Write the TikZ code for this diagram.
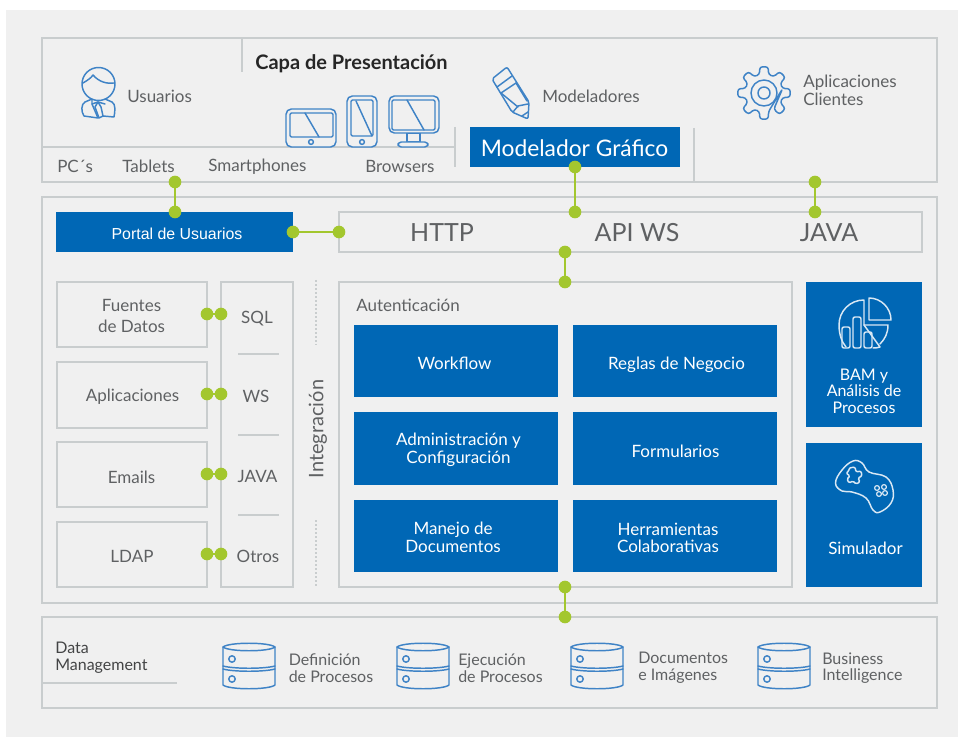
\documentclass[tikz,border=0pt]{standalone}
\usepackage{fontspec}
\setmainfont{Lato}
\usetikzlibrary{calc}
\definecolor{pagebg}{HTML}{F0F0F0}
\definecolor{framec}{HTML}{C9CDCE}
\definecolor{bluec}{HTML}{0067B5}
\definecolor{iconc}{HTML}{3F83C6}
\definecolor{greenc}{HTML}{A3C72E}
\definecolor{textc}{HTML}{5F6163}
\newcommand{\px}[1]{\fontsize{\fpeval{#1*0.75}}{\fpeval{#1*0.78}}\selectfont}
\tikzset{
  x=0.75pt,y=-0.75pt,
  framebox/.style={draw=framec,line width=2.2pt,fill=pagebg,inner sep=0pt,outer sep=0pt},
  bluebox/.style={fill=bluec,inner sep=0pt,outer sep=0pt},
  frameline/.style={draw=framec,line width=2pt},
  sized/.style 2 args={minimum width=#1*0.75pt,minimum height=#2*0.75pt},
  dot/.style={circle,fill=greenc,inner sep=0pt,outer sep=0pt,minimum size=9.5pt},
  conn/.style={draw=greenc,line width=2pt},
  label/.style={text=textc,inner sep=0pt,align=left,anchor=west},
  gtext/.style={text=textc,inner sep=0pt,align=center},
  wtext/.style={text=white,inner sep=0pt,align=center},
  iconl/.style={draw=iconc,line width=1.1pt,line join=round,line cap=round},
  iconw/.style={draw=white!85!bluec,line width=1.1pt,line join=round,line cap=round},
}
\begin{document}
\begin{tikzpicture}
\useasboundingbox (0,0) rectangle (963,737);
\fill[white] (0,0) rectangle (963,737);
\fill[pagebg] (6,10) rectangle (958,737);

% frames
\node[framebox,sized={895}{144}] (top) at (489.5,110) {};
\node[framebox,sized={895}{406}] (mid) at (489.5,400) {};
\node[framebox,sized={895}{91}] (bot) at (489.5,662.5) {};

% top layer
\draw[frameline] (242,38) -- (242,72);
\draw[frameline] (42,147) -- (455,147);
\draw[frameline] (455,127) -- (455,167);
\draw[frameline] (694,128) -- (694,182);
\node[text=black!85,inner sep=0pt,anchor=west,font=\bfseries\px{20}] (capa) at (255,63.5) {Capa de Presentación};
\node[label,font=\px{17}] (usu) at (127,96.5) {Usuarios};
\node[label,font=\px{17}] (mod) at (542,96.5) {Modeladores};
\node[label,font=\px{17}] (apl) at (803,90.5) {Aplicaciones\\Clientes};
\node[label,font=\px{17}] (pc) at (57,166.5) {PC´s};
\node[label,font=\px{17}] (tab) at (122,166.5) {Tablets};
\node[label,font=\px{17}] (sma) at (208,167) {Smartphones};
\node[label,font=\px{17}] (bro) at (365,166.5) {Browsers};
\node[bluebox,sized={210}{40}] (modg) at (575,147) {};
\node[wtext,font=\px{22.8}] (modgt) at (574.5,148.5) {Modelador Gráfico};

% user icon
\draw[iconl] (98.5,84) ellipse (16.5 and 16.5);
\draw[iconl] (83,83) .. controls (88,80) and (91,78) .. (93,75) .. controls (99,82) and (107,84) .. (114,83);
\draw[iconl] (92,99) -- (85,102) .. controls (81,104) and (81,112) .. (84,116) -- (98,118) -- (92,104) -- (92,99);
\draw[iconl] (105,99) -- (112,102) .. controls (116,104) and (115,112) .. (114,117) -- (103,116) -- (99,118) -- (95,107) -- (98,102) -- (101,107) -- (103,116);
\draw[iconl] (92,104) -- (98,102) -- (105,104);

% devices
\draw[iconl,fill=pagebg,rounded corners=4] (286,109) rectangle (336,147);
\draw[iconl,rounded corners=1] (290,113) rectangle (333,137);
\draw[iconl] (305,113) -- (319,137);
\draw[iconl] (311,142) circle (2.4);
\draw[iconl,fill=pagebg,rounded corners=4] (347,96) rectangle (377,147);
\draw[iconl,rounded corners=1] (351,100) rectangle (373,136);
\draw[iconl] (356,101) -- (372,136);
\draw[iconl] (362,142) circle (2.4);
\draw[iconl,fill=pagebg] (407,133) rectangle (420,142);
\draw[iconl,fill=pagebg,rounded corners=2.5] (398,142) rectangle (428,147);
\draw[iconl,fill=pagebg,rounded corners=4] (389,96) rectangle (439,133);
\draw[iconl,rounded corners=1] (392,100) rectangle (435,130);
\draw[iconl] (407,100) -- (424,130);

% pencil
\draw[iconl,rounded corners=1.5] (492,79) -- (507,67) -- (529,102) -- (528,119) -- (512,112) -- cycle;
\draw[iconl] (497,87) -- (512,76);
\draw[iconl] (501,93) -- (516,83) ;
\draw[iconl] (501,93) -- (518,107) (516,83) -- (527,101);
\draw[iconl] (513,112) -- (518,106) -- (528,104);
\draw[iconl] (522,116) -- (528,112);

% gear
\begin{scope}[shift={(764,93)}]
\draw[iconl,rounded corners=2] (-13:19) foreach \a in {90,135,180,225,270,315,0,45}{ -- (\a-14:19) -- (\a-9:26.5) -- (\a+9:26.5) -- (\a+14:19)} -- cycle;
\draw[iconl] (0,0) circle (13);
\draw[iconl] (0,0) circle (6);
\end{scope}

% interface row
\node[bluebox,sized={237}{40}] (portal) at (174.5,232) {};
\node[wtext,font=\fontspec{Liberation Sans}\px{15.9}] (portalt) at (177,233.5) {Portal de Usuarios};
\node[framebox,sized={583}{40}] (api) at (630.5,232) {};
\node[gtext,font=\px{25}] (http) at (442,233) {HTTP};
\node[gtext,font=\px{25}] (ws) at (637,233) {API WS};
\node[gtext,font=\px{25}] (java) at (829,233) {JAVA};

% left column
\node[framebox,sized={150}{65}] (fd) at (132,314.5) {};
\node[framebox,sized={150}{66}] (ap) at (132,395) {};
\node[framebox,sized={150}{65}] (em) at (132,474.5) {};
\node[framebox,sized={150}{65}] (ld) at (132,554.5) {};
\node[gtext,font=\px{17}] (fdt) at (131.5,316) {Fuentes\\[2pt]de Datos};
\node[gtext,font=\px{17}] (apt) at (132.5,396.5) {Aplicaciones};
\node[gtext,font=\px{17}] (emt) at (131.5,477) {Emails};
\node[gtext,font=\px{17}] (ldt) at (132,556) {LDAP};
\node[framebox,sized={72}{305}] (prot) at (257,434.5) {};
\node[gtext,font=\px{17}] (sql) at (257,318.5) {SQL};
\node[gtext,font=\px{17}] (wsl) at (256,396.5) {WS};
\node[gtext,font=\px{17}] (jav) at (257.5,476.5) {JAVA};
\node[gtext,font=\px{17}] (otr) at (258,556) {Otros};
\draw[frameline] (238,354) -- (279,354);
\draw[frameline] (238,435) -- (279,435);
\draw[frameline] (238,515) -- (279,515);

% integration
\node[gtext,rotate=90,font=\px{20}] (int) at (318,429) {Integración};
\draw[framec,line width=2pt,dash pattern=on 1.5pt off 1.5pt] (316,280) -- (316,345);
\draw[framec,line width=2pt,dash pattern=on 1.5pt off 1.5pt] (316,520) -- (316,587);

% auth
\node[framebox,sized={453}{305}] (auth) at (565.5,434.5) {};
\node[label,font=\px{17}] (aut) at (356,305.5) {Autenticación};
\node[bluebox,sized={204}{72}] (wf) at (456,361) {};
\node[bluebox,sized={204}{72}] (rn) at (675,361) {};
\node[bluebox,sized={204}{73}] (adm) at (456,448.5) {};
\node[bluebox,sized={204}{73}] (for) at (675,448.5) {};
\node[bluebox,sized={204}{72}] (man) at (456,536) {};
\node[bluebox,sized={204}{72}] (her) at (675,536) {};
\node[wtext,font=\px{17}] (wft) at (454.5,363) {Workflow};
\node[wtext,font=\px{17}] (rnt) at (676.5,365) {Reglas de Negocio};
\node[wtext,font=\px{17}] (admt) at (458.5,450) {Administración y\\Configuración};
\node[wtext,font=\px{17}] (fort) at (675.5,451) {Formularios};
\node[wtext,font=\px{17}] (mant) at (453,537) {Manejo de\\Documentos};
\node[wtext,font=\px{17}] (hert) at (668,538) {Herramientas\\Colaborativas};

% right blocks
\node[bluebox,sized={116}{145}] (bam) at (864,354.5) {};
\node[wtext,font=\px{16}] (bamt) at (864,391) {BAM y\\Análisis de\\Procesos};
\node[bluebox,sized={116}{144}] (sim) at (864,515) {};
\node[wtext,font=\px{17}] (simt) at (865.5,548) {Simulador};

% BAM icon
\draw[iconw] (869,298) .. controls (881,298) and (891,308) .. (891,320) -- (869,320) -- cycle;
\draw[iconw] (864,300) .. controls (850,300) and (839,311) .. (839,325) .. controls (839,335) and (842,342) .. (846,347) (864,300) -- (864,325) -- (888,325) .. controls (888,333) and (885,339) .. (880,344);
\draw[iconw] (864,325) -- (880,347) .. controls (877,348) and (875,348) .. (873,348);
\draw[iconw,rounded corners=1.5] (842,348) -- (842,327) -- (850,327) -- (850,348) -- cycle;
\draw[iconw,rounded corners=1.5] (853,348) -- (853,317) -- (861,317) -- (861,348) -- cycle;
\draw[iconw,rounded corners=1.5] (864,348) -- (864,332) -- (872,332) -- (872,348) -- cycle;

% game pad icon
\draw[iconw] plot[smooth cycle,tension=0.7] coordinates {(835.5,483) (842,470) (853,461) (862,463) (869,472) (886,477) (893,490) (891,503) (880,512) (873,510) (866,498) (852,492) (842,491)};
\draw[iconw,rounded corners=1] (849,468) -- (855,467) -- (856,472) -- (861,471) -- (862,476) -- (858,478) -- (860,482) -- (856,484) -- (853,481) -- (849,483) -- (847,479) -- (850,476) -- (846,473) -- (849,471) -- cycle;
\draw[iconw,line width=0.9pt] (877,488) circle (2.4) (884,487) circle (2.4) (879,494) circle (2.4) (885,493) circle (2.4);

% connector dots
\node[dot] (d1a) at (175,182) {};
\node[dot] (d1b) at (175,212) {};
\node[dot] (d2a) at (293,232) {};
\node[dot] (d2b) at (339,232) {};
\node[dot] (d3a) at (575,167) {};
\node[dot] (d3b) at (575,212) {};
\node[dot] (d4a) at (815,182) {};
\node[dot] (d4b) at (815,212) {};
\node[dot] (d5a) at (565,252) {};
\node[dot] (d5b) at (565,282) {};
\node[dot] (d6a) at (565,587) {};
\node[dot] (d6b) at (565,617) {};
\node[dot] (s1a) at (207,314) {};
\node[dot] (s1b) at (221,314) {};
\node[dot] (s2a) at (207,394) {};
\node[dot] (s2b) at (221,394) {};
\node[dot] (s3a) at (207,474) {};
\node[dot] (s3b) at (221,474) {};
\node[dot] (s4a) at (207,554) {};
\node[dot] (s4b) at (221,554) {};
\foreach \p/\q in {d1a/d1b,d2a/d2b,d3a/d3b,d4a/d4b,d5a/d5b,d6a/d6b,s1a/s1b,s2a/s2b,s3a/s3b,s4a/s4b}{
  \draw[conn] (\p) -- (\q);
}

% data layer
\node[label,text=textc!70!black,font=\px{16}] (dm) at (55,657.5) {Data\\Management};
\draw[frameline] (42,683) -- (177,683);
\foreach \cx in {249,423,597,784}{
  \begin{scope}[shift={(\cx,0)}]
  \draw[iconl] (-26,647) .. controls (-20,642) and (20,642) .. (26,647) .. controls (20,652) and (-20,652) .. (-26,647);
  \draw[iconl] (-26,647) -- (-26,685) .. controls (-20,690) and (20,690) .. (26,685) -- (26,647);
  \draw[iconl] (-26,666) .. controls (-15,669) and (15,669) .. (26,666);
  \draw[iconl] (-26,669) .. controls (-15,672) and (15,672) .. (26,669);
  \draw[iconl] (-17,659) circle (3.2);
  \draw[iconl] (-17,679) circle (3.2);
  \end{scope}
}
\node[label,font=\px{16}] (db1) at (288.5,668) {Definición\\de Procesos};
\node[label,font=\px{16}] (db2) at (458,668) {Ejecución\\de Procesos};
\node[label,font=\px{16}] (db3) at (638,668) {Documentos\\e Imágenes};
\node[label,font=\px{16}] (db4) at (822,668) {Business\\Intelligence};
\end{tikzpicture}
\end{document}
